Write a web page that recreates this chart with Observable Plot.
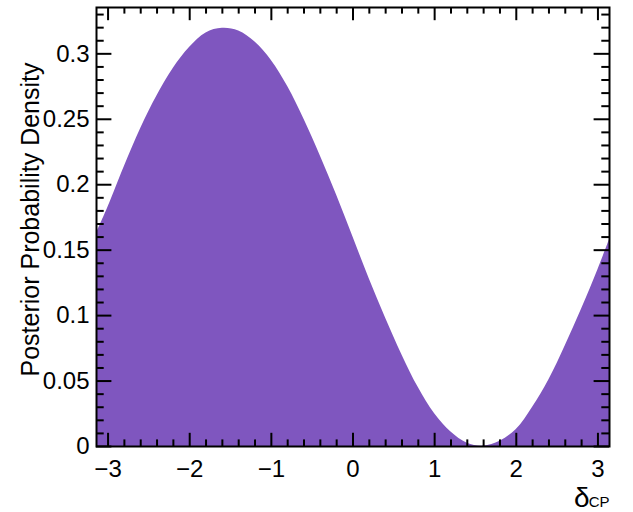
<!DOCTYPE html>
<html>
<head>
<meta charset="utf-8">
<script src="https://cdn.jsdelivr.net/npm/d3@7"></script>
<script src="https://cdn.jsdelivr.net/npm/@observablehq/plot@0.6"></script>
<style>
  html, body { margin: 0; padding: 0; background: white; }
</style>
</head>
<body>
<div id="chart"></div>
<script>
const deltaCP = [-3.1416, -3.0, -2.8, -2.6, -2.4, -2.2, -2.0, -1.8, -1.6, -1.4, -1.2, -1.0, -0.8, -0.6, -0.4, -0.2,
  0.0, 0.2, 0.4, 0.6, 0.8, 1.0, 1.2, 1.4, 1.6, 1.8, 2.0, 2.2, 2.4, 2.6, 2.8, 3.0, 3.1416];
const density = [0.163, 0.183, 0.214, 0.243, 0.268, 0.289, 0.305, 0.316, 0.3195, 0.3175, 0.309, 0.295, 0.275, 0.250, 0.222, 0.192,
  0.160, 0.128, 0.098, 0.070, 0.045, 0.025, 0.011, 0.0025, 0.0003, 0.004, 0.013, 0.030, 0.051, 0.077, 0.105, 0.135, 0.158];

const xTickLabels = [-3, -2, -1, 0, 1, 2, 3];
const xMinorTicks = [-2.8, -2.6, -2.4, -2.2, -1.8, -1.6, -1.4, -1.2, -0.8, -0.6, -0.4, -0.2,
  0.2, 0.4, 0.6, 0.8, 1.2, 1.4, 1.6, 1.8, 2.2, 2.4, 2.6, 2.8];
const yTickLabels = [0, 0.05, 0.1, 0.15, 0.2, 0.25, 0.3];
const yMinorTicks = [0.01, 0.02, 0.03, 0.04, 0.06, 0.07, 0.08, 0.09, 0.11, 0.12, 0.13, 0.14,
  0.16, 0.17, 0.18, 0.19, 0.21, 0.22, 0.23, 0.24, 0.26, 0.27, 0.28, 0.29, 0.31, 0.32, 0.33];

const yTitle = "Posterior Probability Density";
const xTitleMain = "δ";
const xTitleSub = "CP";

const table = deltaCP.map((x, i) => ({x, y: density[i]}));

const W = 633, H = 512;
const mL = 96, mR = 24, mT = 7, mB = 66;
const plotW = W - mL - mR, plotH = H - mT - mB;
const xDomain = [-Math.PI, Math.PI];
const yDomain = [0, 0.3354];
const xPerPx = (xDomain[1] - xDomain[0]) / plotW;
const yPerPx = (yDomain[1] - yDomain[0]) / plotH;

const xMajLen = 13.2 * yPerPx, xMinLen = 6.6 * yPerPx;
const yMajLen = 15.4 * xPerPx, yMinLen = 7.7 * xPerPx;

const fmtX = d => d < 0 ? "\u2212" + (-d) : String(d);
const fmtY = d => String(d);
const font = "'Liberation Sans', Arial, Helvetica, sans-serif";
const col = "#7f56bf";

const chart = Plot.plot({
  width: W, height: H,
  marginLeft: mL, marginRight: mR, marginTop: mT, marginBottom: mB,
  style: {fontFamily: font, background: "white", color: "black"},
  x: {domain: xDomain},
  y: {domain: yDomain},
  marks: [
    Plot.areaY(table, {x: "x", y: "y", fill: col, curve: "catmull-rom"}),
    // bottom ticks
    Plot.ruleX(xTickLabels, {x: d => d, y1: yDomain[0], y2: yDomain[0] + xMajLen, stroke: "black", strokeWidth: 2}),
    Plot.ruleX(xMinorTicks, {x: d => d, y1: yDomain[0], y2: yDomain[0] + xMinLen, stroke: "black", strokeWidth: 2}),
    // top ticks
    Plot.ruleX(xTickLabels, {x: d => d, y1: yDomain[1], y2: yDomain[1] - xMajLen, stroke: "black", strokeWidth: 2}),
    Plot.ruleX(xMinorTicks, {x: d => d, y1: yDomain[1], y2: yDomain[1] - xMinLen, stroke: "black", strokeWidth: 2}),
    // left ticks
    Plot.ruleY(yTickLabels, {y: d => d, x1: xDomain[0], x2: xDomain[0] + yMajLen, stroke: "black", strokeWidth: 2}),
    Plot.ruleY(yMinorTicks, {y: d => d, x1: xDomain[0], x2: xDomain[0] + yMinLen, stroke: "black", strokeWidth: 2}),
    // right ticks
    Plot.ruleY(yTickLabels, {y: d => d, x1: xDomain[1], x2: xDomain[1] - yMajLen, stroke: "black", strokeWidth: 2}),
    Plot.ruleY(yMinorTicks, {y: d => d, x1: xDomain[1], x2: xDomain[1] - yMinLen, stroke: "black", strokeWidth: 2}),
    Plot.axisX({ticks: xTickLabels, tickSize: 0, tickPadding: 13, fontSize: 24, tickFormat: fmtX, label: null}),
    Plot.axisY({ticks: yTickLabels, tickSize: 0, tickPadding: 7, fontSize: 24, tickFormat: fmtY, label: null}),
    Plot.frame({stroke: "black", strokeWidth: 2}),
    Plot.text([yTitle], {text: d => d, frameAnchor: "top-left", rotate: -90, textAnchor: "end", lineAnchor: "bottom",
      dx: -57.5, dy: 55, fontSize: 25, fill: "black"}),
    Plot.text([xTitleSub], {text: d => d, frameAnchor: "bottom-right", textAnchor: "end", lineAnchor: "bottom",
      dx: 0, dy: 60, fontSize: 15, fill: "black"}),
    Plot.text([xTitleMain], {text: d => d, frameAnchor: "bottom-right", textAnchor: "end", lineAnchor: "bottom",
      dx: -20, dy: 60, fontSize: 28, fill: "black"})
  ]
});
document.getElementById("chart").appendChild(chart);
</script>
</body>
</html>
